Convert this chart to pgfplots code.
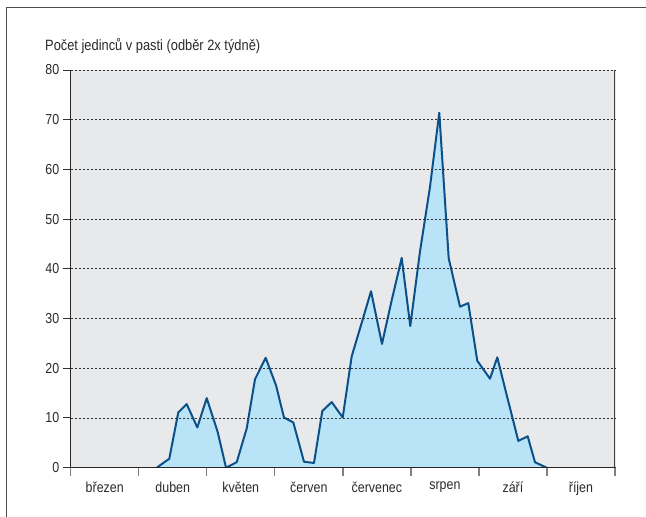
\documentclass[border=0pt]{standalone}
\usepackage{pgfplots}
\usepackage{pgfplotstable}
\pgfplotsset{compat=1.18}
\usepackage{fontspec}
\setmainfont[FakeStretch=0.86]{Liberation Sans}
\definecolor{bg}{HTML}{E8E9EB}
\definecolor{areafill}{HTML}{B9E4F8}
\definecolor{linec}{HTML}{0B5088}
\definecolor{txt}{HTML}{2A2A2A}

\pgfplotstableread{
x y
1.264 0
1.449 1.8
1.581 11.1
1.705 12.8
1.861 8.1
1.999 14.0
2.160 7.2
2.283 0
2.440 1.1
2.587 7.9
2.709 17.8
2.866 22.1
3.017 16.6
3.135 10.1
3.272 9.1
3.429 1.2
3.576 0.95
3.698 11.4
3.836 13.2
3.998 10.1
4.130 22.4
4.274 29.0
4.414 35.5
4.575 24.9
4.715 33.5
4.865 42.2
4.991 28.5
5.134 43.5
5.281 56.5
5.417 71.4
5.556 42.1
5.722 32.4
5.844 33.1
5.976 21.5
6.163 17.9
6.270 22.2
6.427 13.6
6.579 5.4
6.717 6.3
6.824 1.1
6.996 0
}\datatable

\begin{document}
\begin{tikzpicture}
\path[use as bounding box] (-70.7bp,-49.3bp) rectangle (575.3bp,467.7bp);
\begin{axis}[
  at={(0,0)}, anchor=south west,
  scale only axis, width=544.3bp, height=397.7bp,
  xmin=0, xmax=8, ymin=0, ymax=80,
  axis x line*=bottom, axis y line*=left,
  axis line style={draw=black!85, line width=1.5bp},
  axis background/.style={fill=bg},
  axis on top,
  ytick={0,10,...,80},
  xtick={0,...,8},
  xticklabels={březen,duben,květen,červen,červenec,srpen,září,říjen},
  x tick label as interval,
  ymajorgrids,
  grid style={dash pattern=on 2.5bp off 1.5bp, line width=0.9bp, color=black!80},
  tick align=outside,
  major tick length=8bp,
  x tick style={color=black!50, line width=1.3bp},
  y tick style={color=black!80, line width=1bp},
  tick label style={font=\fontsize{14.5}{16}\selectfont, text=txt},
  x tick label style={yshift=-3bp},
  /pgf/number format/assume math mode=true,
]
\addplot[fill=areafill, draw=none] table {\datatable} \closedcycle;
\addplot[linec, line width=2bp, line join=round] table {\datatable};
\draw[black!75, line width=1.8bp] (rel axis cs:1,0) -- (rel axis cs:1,1);
\end{axis}
\node[anchor=base west, text=txt, font=\fontsize{15}{17}\selectfont, inner sep=0pt] at (-25.7bp,416.7bp) {Počet jedinců v pasti (odběr 2x týdně)};
\draw[black!70, line width=1bp] (-63.7bp,-49.3bp) -- (-63.7bp,460.4bp) -- (575.3bp,460.4bp);
\end{tikzpicture}
\end{document}
